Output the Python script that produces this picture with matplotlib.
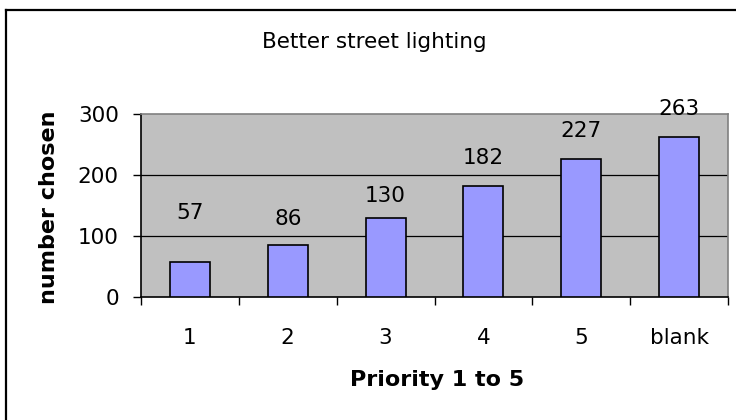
import matplotlib
matplotlib.use("Agg")
import matplotlib.pyplot as plt
from matplotlib.lines import Line2D

plt.rcParams['font.family'] = ['DejaVu Sans']

categories = ["1", "2", "3", "4", "5", "blank"]
values = [57, 86, 130, 182, 227, 263]
label_offsets_px = [49, 26, 22, 28, 28, 28]
yticks = [0, 100, 200, 300]
title = "Better street lighting"
xlabel = "Priority 1 to 5"
ylabel = "number chosen"

fig = plt.figure(figsize=(7.36, 4.2), dpi=100)
fig.patch.set_facecolor("white")

# outer chart border (only left and top edges fall inside the image)
fig.add_artist(Line2D([6/736, 6/736], [0, 1-9.5/420], transform=fig.transFigure,
                      color="black", linewidth=1.6))
fig.add_artist(Line2D([6/736, 1], [1-9.5/420, 1-9.5/420], transform=fig.transFigure,
                      color="black", linewidth=1.6))

ax = fig.add_axes([141/736, 1-297/420, 587/736, 183/420])
ax.set_facecolor("#C0C0C0")

x = list(range(len(categories)))
ax.bar(x, values, width=0.41, color="#9999FF", edgecolor="black", linewidth=1.2, zorder=3)

ax.set_xlim(-0.5, len(categories) - 0.5)
ax.set_ylim(0, 300)
ax.set_yticks(yticks)
ax.set_yticklabels([str(t) for t in yticks], fontsize=15.5)
for t in yticks[1:-1]:
    ax.axhline(t, color="black", linewidth=0.9, zorder=2)

ax.set_xticks([i - 0.5 for i in range(len(categories) + 1)])
ax.set_xticklabels([])
ax.set_xticks(x, minor=True)
ax.set_xticklabels(categories, minor=True, fontsize=15.5)
ax.tick_params(axis="x", which="minor", length=0, pad=22)
ax.tick_params(axis="x", which="major", length=6, direction="out", width=1)
ax.tick_params(axis="y", length=6, direction="out", width=1, pad=10)

for s in ["top", "right"]:
    ax.spines[s].set_color("#808080")
    ax.spines[s].set_linewidth(1.2)
for s in ["left", "bottom"]:
    ax.spines[s].set_color("black")
    ax.spines[s].set_linewidth(1.2)

for xi, v, off in zip(x, values, label_offsets_px):
    ax.annotate(str(v), (xi, v), xytext=(0, off), textcoords="offset pixels",
                ha="center", va="center", fontsize=15.5, zorder=4, annotation_clip=False)

fig.text(374/736, 1-42/420, title, ha="center", va="center", fontsize=15.5)
fig.text(437/736, 1-380/420, xlabel, ha="center", va="center", fontsize=16, fontweight="bold")
fig.text(49/736, 1-207/420, ylabel, ha="center", va="center", fontsize=16, fontweight="bold",
         rotation=90)

fig.savefig("out.png", dpi=100)
